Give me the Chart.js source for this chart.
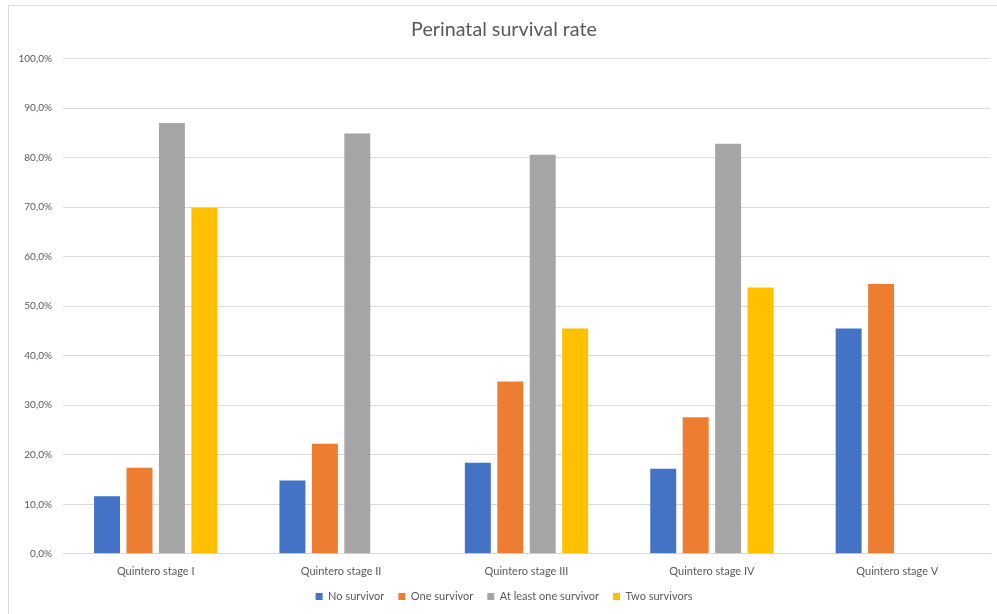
<!DOCTYPE html>
<html>
<head>
<meta charset="utf-8">
<script src="https://cdn.jsdelivr.net/npm/chart.js@4/dist/chart.umd.min.js"></script>
<style>
  html, body { margin: 0; padding: 0; background: #fff; }
  #frame {
    position: absolute; left: 8px; top: 5px; width: 1000px; height: 620px;
    border-top: 1px solid #d9d9d9; border-left: 1px solid #d9d9d9;
  }
  #wrap { position: absolute; left: 0; top: 0; width: 997px; height: 614px; }
</style>
</head>
<body>
<div id="frame"></div>
<div id="wrap"><canvas id="chart" width="997" height="614"></canvas></div>
<script>
// Perinatal survival by Quintero stage (percent)
const categories = ['Quintero stage I', 'Quintero stage II', 'Quintero stage III', 'Quintero stage IV', 'Quintero stage V'];
const noSurvivor = [11.6, 14.8, 18.4, 17.2, 45.5];
const oneSurvivor = [17.4, 22.2, 34.8, 27.6, 54.5];
const atLeastOne = [87.0, 84.9, 80.6, 82.8, null];
const twoSurvivors = [69.9, null, 45.5, 53.8, null];
const yTicks = [0, 10, 20, 30, 40, 50, 60, 70, 80, 90, 100];

const FONT = 'Lato, "Open Sans", "Noto Sans", sans-serif';
const TEXT = '#595959';

const ds = (label, data, color) => ({
  label, data, backgroundColor: color, borderWidth: 0,
  barPercentage: 0.8, categoryPercentage: 0.70
});

// the x axis box is tightened below, so let its labels draw without clipping
const unclipLabels = {
  id: 'unclipLabels',
  beforeDraw(chart) {
    chart.scales.x._computeLabelArea = () => null;
  }
};

new Chart(document.getElementById('chart'), {
  type: 'bar',
  data: {
    labels: categories,
    datasets: [
      ds('No survivor', noSurvivor, '#4472c4'),
      ds('One survivor', oneSurvivor, '#ed7d31'),
      ds('At least one survivor', atLeastOne, '#a5a5a5'),
      ds('Two survivors', twoSurvivors, '#ffc000')
    ]
  },
  plugins: [unclipLabels],
  options: {
    responsive: false,
    animation: false,
    devicePixelRatio: 1,
    layout: { padding: { left: 18, right: 7, top: 6, bottom: 2 } },
    plugins: {
      title: {
        display: true,
        text: 'Perinatal survival rate',
        color: TEXT,
        font: { family: FONT, size: 19.7, weight: 'normal' },
        padding: { top: 12, bottom: 17 }
      },
      legend: {
        position: 'bottom',
        labels: {
          color: TEXT,
          font: { family: FONT, size: 11 },
          boxWidth: 7, boxHeight: 7,
          padding: 14
        }
      },
      tooltip: { enabled: false }
    },
    scales: {
      x: {
        afterFit: s => { s.height -= 12; },
        grid: { display: false, drawTicks: false },
        border: { display: true, color: '#d9d9d9' },
        ticks: { color: TEXT, font: { family: FONT, size: 11 }, padding: 11, maxRotation: 0 }
      },
      y: {
        min: 0, max: 100,
        afterBuildTicks: s => { s.ticks = yTicks.map(v => ({ value: v })); },
        afterFit: s => { s.width = 45; },
        grid: { color: '#d9d9d9', drawTicks: false },
        border: { display: false },
        ticks: {
          color: TEXT, font: { family: FONT, size: 10 }, padding: 11,
          callback: v => v.toFixed(1).replace('.', ',') + '%'
        }
      }
    }
  }
});
</script>
</body>
</html>
